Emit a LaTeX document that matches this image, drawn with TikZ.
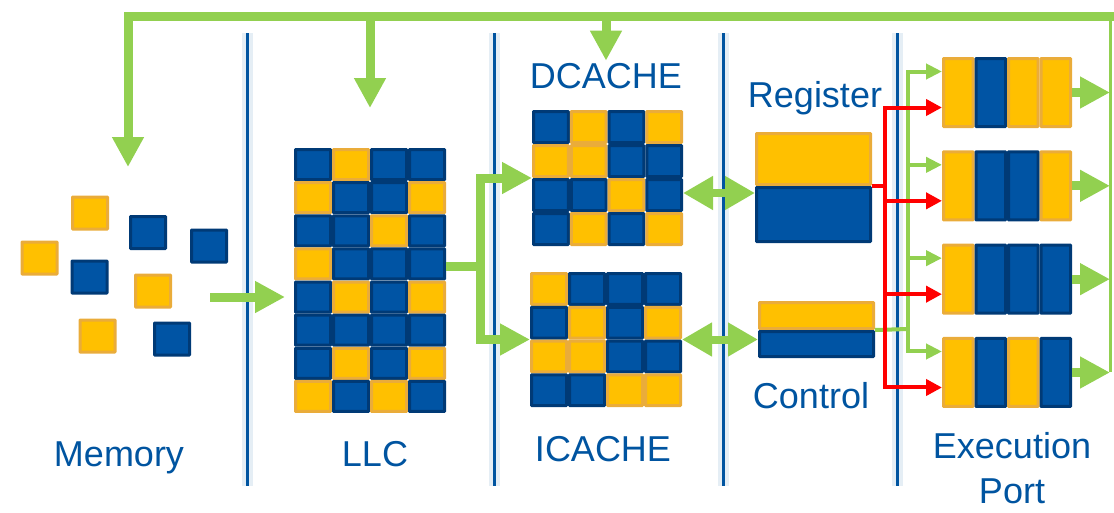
\documentclass[tikz,border=0pt]{standalone}
\usepackage{fontspec}
\setmainfont{Liberation Sans}
\usetikzlibrary{arrows.meta, positioning, calc}

\definecolor{faceB}{RGB}{0,84,164}
\definecolor{edgeB}{RGB}{0,58,118}
\definecolor{faceY}{RGB}{255,192,0}
\definecolor{edgeY}{RGB}{234,172,58}
\definecolor{leaf}{RGB}{146,208,80}
\definecolor{wire}{RGB}{255,0,0}
\definecolor{inkblue}{RGB}{0,84,160}

\begin{document}
\begin{tikzpicture}[
    x=1pt, y=-1pt,
    font=\fontsize{36}{45}\selectfont,
    % 1. Blocks, cells and labels
    cell/.style={draw=edge#1, fill=face#1, line width=3pt, rounded corners=0.4pt, inner sep=0pt},
    mem/.style={minimum width=35pt, minimum height=32pt},
    blk/.style={inner sep=0pt, outer sep=0pt},
    lbl/.style={text=inkblue, inner sep=2pt, anchor=base},
    sep/.style={line width=3pt, draw=inkblue},
    glow/.style={line width=11pt, draw=inkblue!10},
    % 2. Data paths
    fat/.style={line width=9pt, draw=leaf},
    bigarr/.style={fat, -{Triangle[length=30pt,width=30pt]}},
    dblarr/.style={line width=8pt, draw=leaf, {Triangle[length=30pt,width=32pt]}-{Triangle[length=30pt,width=32pt]}},
    pipe/.style={line width=3pt, draw=leaf},
    grnarr/.style={line width=4pt, draw=leaf, -{Triangle[length=16pt,width=15pt]}},
    redline/.style={line width=4pt, draw=wire},
    redarr/.style={redline, -{Triangle[length=16pt,width=16pt]}}
]
\useasboundingbox (0,0) rectangle (1114,512);

% ===============================
% Stage separators
% ===============================
\foreach \x in {247,494,723,897} {
    \draw[glow] (\x,33) -- (\x,486);
    \draw[sep] (\x,33) -- (\x,486);
}

% ===============================
% Memory: scattered blocks
% ===============================
\foreach \c/\x/\y [count=\i] in {Y/90/213, Y/39.5/258, B/148/232.5, B/209/246,
                                B/89.5/277, Y/153/291, Y/97.5/336, B/172/339}
    \node[cell=\c, mem] (mem\i) at (\x,\y) {};
\coordinate (memin) at (128,167);
\coordinate (memout) at (210,297);
\node[lbl] (memlbl) at (119,466) {Memory};

% ===============================
% LLC: 8 x 4 grid
% ===============================
\node[blk, minimum width=152pt, minimum height=265pt] (llc) at (370,280.5) {};
\foreach \row [count=\r] in {{B,Y,B,B},{Y,B,B,Y},{B,B,Y,B},{Y,B,B,B},
                             {B,Y,B,Y},{B,B,B,B},{B,Y,B,Y},{Y,B,Y,B}}
    \foreach \c [count=\k] in \row
        \node[cell=\c, minimum width=35pt, minimum height=30.1pt] (llc-\r-\k)
            at (294+38*\k-19, 148+33.125*\r-16.56) {};
\node[lbl] (llclbl) at (375,466) {LLC};

% ===============================
% DCACHE and ICACHE: 4 x 4 grids
% ===============================
\node[blk, minimum width=151pt, minimum height=136pt] (dcache) at (607.5,178) {};
\foreach \row [count=\r] in {{B,Y,B,Y},{Y,Y,B,B},{B,B,Y,B},{B,Y,B,Y}}
    \foreach \c [count=\k] in \row
        \node[cell=\c, minimum width=34.75pt, minimum height=31pt] (dc-\r-\k)
            at (532+37.75*\k-18.875, 110+34*\r-17) {};
\node[lbl] (dclbl) at (606,88) {DCACHE};

\node[blk, minimum width=152pt, minimum height=135pt] (icache) at (606,339.5) {};
\foreach \row [count=\r] in {{Y,B,B,B},{B,Y,B,Y},{Y,Y,B,B},{B,B,Y,Y}}
    \foreach \c [count=\k] in \row
        \node[cell=\c, minimum width=35pt, minimum height=30.75pt] (ic-\r-\k)
            at (530+38*\k-19, 272+33.75*\r-16.875) {};
\node[lbl] (iclbl) at (603,461) {ICACHE};

% ===============================
% Register and Control
% ===============================
\node[cell=Y, minimum width=114pt, minimum height=51pt] (regtop) at (813.5,159) {};
\node[cell=B, minimum width=114pt, minimum height=54pt] (regbot) at (813.5,214.5) {};
\node[lbl] (reglbl) at (815,107) {Register};

\node[cell=Y, minimum width=114pt, minimum height=26pt] (ctltop) at (816.5,315.5) {};
\node[cell=B, minimum width=114pt, minimum height=25pt] (ctlbot) at (816.5,344) {};
\node[lbl] (ctllbl) at (811,408) {Control};

% ===============================
% Execution ports
% ===============================
\foreach \row [count=\i] in {{Y,B,Y,Y},{Y,B,B,Y},{Y,B,B,B},{Y,B,Y,B}} {
    \node[blk, minimum width=130pt, minimum height=71pt] (p\i) at (1007,92.5+93.33*\i-93.33) {};
    \foreach \c [count=\k] in \row
        \node[cell=\c, minimum width=29.5pt, minimum height=68pt] (p\i-\k)
            at (942+32.5*\k-16.25, 92.5+93.33*\i-93.33) {};
}
\node[text=inkblue, inner sep=2pt, align=center, anchor=north] (exelbl) at (1012,430) {Execution\\Port};

% ===============================
% Data paths
% ===============================
% Memory to LLC
\draw[bigarr, shorten >=9pt] (memout) -- (memout -| llc.west);

% LLC to both caches
\coordinate (split) at (480,266);
\draw[fat] ([yshift=14.5pt]llc.east) -- (split);
\draw[bigarr] (split) |- (dcache.west);
\draw[bigarr] (split) |- (icache.west);

% Caches to Register / Control
\draw[dblarr] ([yshift=-15pt]dcache.east) -- ([yshift=-15pt]dcache.east -| regbot.west);
\draw[dblarr] (icache.east) -- (icache.east -| ctlbot.west);

% Register and Control fan out to the ports
\coordinate (redbus) at (885,186);
\coordinate (grnbus) at (908,329);
\draw[redline] (regtop.south east) -- (redbus);
\draw[pipe, line width=4pt] (ctlbot.north east) -- (grnbus);
\foreach \i in {1,...,4} {
    \draw[grnarr] (grnbus) |- ([yshift=21pt]p\i.west);
    \draw[redarr] (redbus) |- ([yshift=-15pt]p\i.west);
}

% Ports write back
\coordinate (loopR) at (1110,16);
\coordinate (loopL) at (128,16);
\foreach \i in {1,...,4}
    \draw[bigarr] (p\i.east) -- (p\i.east -| loopR);
\draw[pipe] (p4.east -| loopR) -- ([yshift=-4pt]loopR);
\draw[bigarr] ([xshift=4pt]loopR) -- (loopL) -- (memin);
\draw[bigarr, shorten >=40pt] (loopL -| llc.north) -- (llc.north);
\draw[bigarr] (loopL -| dclbl.north) -- (dclbl.north);

\end{tikzpicture}
\end{document}
